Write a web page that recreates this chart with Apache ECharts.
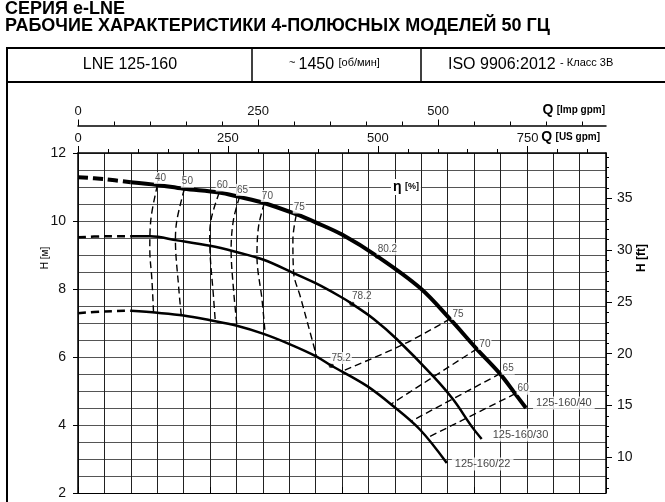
<!DOCTYPE html>
<html>
<head>
<meta charset="utf-8">
<script src="https://cdn.jsdelivr.net/npm/echarts@6/dist/echarts.min.js"></script>
<style>
  html, body { margin: 0; padding: 0; background: #fff; }
  #chart { width: 665px; height: 502px; }
</style>
</head>
<body>
<div id="chart"></div>
<script>
// Q in m3/h, H in m
const curve40Dash = [[0, 11.29], [10, 11.23], [20, 11.14]];
const curve40 = [[20, 11.14], [30, 11.06], [40, 10.95], [53.5, 10.84], [61, 10.71], [70.5, 10.53], [82.6, 10.2], [90, 9.96], [100, 9.6], [113.4, 8.96], [129.6, 8.03], [140.9, 7.12], [151, 6.24], [159.8, 5.51], [165.5, 4.93], [169.7, 4.5]];
const curve30Dash = [[0, 9.52], [10, 9.55], [20, 9.55]];
const curve30 = [[20, 9.55], [27.4, 9.55], [37.5, 9.43], [50, 9.27], [58.9, 9.11], [70.3, 8.86], [81.6, 8.47], [90, 8.17], [99.3, 7.78], [103.7, 7.57], [112, 7.12], [120.7, 6.53], [134.6, 5.43], [142.2, 4.74], [149.1, 3.96], [152.9, 3.59]];
const curve22Dash = [[0, 7.29], [10, 7.34], [20, 7.36]];
const curve22 = [[20, 7.36], [30.1, 7.3], [40, 7.22], [50.1, 7.08], [60.2, 6.92], [70.3, 6.68], [80.1, 6.38], [90.2, 6.02], [95.9, 5.75], [109.4, 5.15], [119.5, 4.55], [129.6, 3.86], [139.7, 2.88]];
const curveNames = ['125-160/40', '125-160/30', '125-160/22'];

// iso-efficiency lines
const iso40 = [[30.1, 11.06], [27.6, 10.04], [27.2, 9.16], [28.0, 8.27], [28.6, 7.32]];
const iso50 = [[40.3, 10.95], [37.5, 10.04], [36.9, 9.45], [38.1, 8.08], [39.1, 7.23]];
const iso60 = [[53.5, 10.84], [50.4, 10.04], [49.9, 9.45], [51.4, 7.69], [52.0, 7.06]];
const iso65 = [[61.2, 10.71], [58.9, 10.04], [58.0, 9.16], [58.9, 7.99], [60.2, 6.92]];
const iso70 = [[70.6, 10.53], [68.4, 9.84], [67.8, 8.96], [69.7, 7.69], [70.9, 6.68]];
const iso75 = [[82.7, 10.19], [81.4, 9.45], [81.7, 8.47], [84.2, 7.78], [88.6, 6.53], [90.3, 6.04]];
const isoLeftNames = ['40', '50', '60', '65', '70', '75'];
const iso75R = [[140.9, 7.12], [123.2, 6.37], [100.6, 5.6]];
const iso70R = [[151.1, 6.24], [118.3, 4.6]];
const iso65R = [[159.9, 5.51], [125.9, 4.1]];
const iso60R = [[165.6, 4.92], [132.2, 3.62]];
const isoRightNames = ['75', '70', '65', '60'];

// best efficiency points [Q, H, eta]
const bepPoints = [[113.4, 8.96, '80.2'], [103.7, 7.57, '78.2'], [95.9, 5.75, '75.2']];

// secondary scales
const US_PER_M3H = 4.40287;
const IMP_PER_M3H = 3.66615;
const FT_PER_M = 3.28084;
const usTicks = [0, 50, 100, 150, 200, 250, 300, 350, 400, 450, 500, 550, 600, 650, 700, 750, 800, 850];
const usLabels = [0, 250, 500, 750];
const impTicks = [0, 50, 100, 150, 200, 250, 300, 350, 400, 450, 500, 550, 600, 650, 700];
const impLabels = [0, 250, 500];
const ftTicks = [7, 8, 9, 10, 11, 12, 13, 14, 15, 16, 17, 18, 19, 20, 21, 22, 23, 24, 25, 26, 27, 28, 29, 30, 31, 32, 33, 34, 35, 36, 37, 38, 39];
const ftLabels = [10, 15, 20, 25, 30, 35];

const FONT = 'Liberation Sans, Arial, sans-serif';
const chart = echarts.init(document.getElementById('chart'));

const series = [];
const lineBase = { type: 'line', smooth: 0.35, showSymbol: false, silent: true, z: 3 };
[[curve40Dash, curve40, 4, [10, 5]], [curve30Dash, curve30, 2.5, [8, 5]], [curve22Dash, curve22, 2.5, [8, 5]]]
  .forEach(([d, s, w, dash]) => {
    series.push(Object.assign({}, lineBase, { data: d, lineStyle: { color: '#000', width: w, type: dash } }));
    series.push(Object.assign({}, lineBase, { data: s, lineStyle: { color: '#000', width: w } }));
  });
[iso40, iso50, iso60, iso65, iso70, iso75, iso75R, iso70R, iso65R, iso60R].forEach(d => {
  series.push(Object.assign({}, lineBase, { data: d, z: 2, lineStyle: { color: '#000', width: 1.4, type: [7, 4] } }));
});

const labelBox = { fontFamily: FONT, fontSize: 10, color: '#222', backgroundColor: '#fff', padding: [1, 1] };
// left iso labels
series.push({
  type: 'scatter', silent: true, symbolSize: 0, z: 5,
  data: [iso40, iso50, iso60, iso65, iso70, iso75].map((d, i) => [d[0][0], d[0][1], isoLeftNames[i]]),
  label: Object.assign({ show: true, position: 'top', distance: 1, offset: [3, 0], formatter: p => p.data[2] }, labelBox)
});
// right iso labels
series.push({
  type: 'scatter', silent: true, symbolSize: 0, z: 5,
  data: [iso75R, iso70R, iso65R, iso60R].map((d, i) => [d[0][0], d[0][1], isoRightNames[i]]),
  label: Object.assign({ show: true, position: 'top', distance: 0, offset: [8, 1], formatter: p => p.data[2] }, labelBox)
});
// best efficiency points
series.push({
  type: 'scatter', silent: true, symbolSize: 5, z: 6, itemStyle: { color: '#000' },
  data: bepPoints,
  label: Object.assign({ show: true, position: 'top', distance: 0, offset: [10, 1], formatter: p => p.data[2] }, labelBox)
});
// curve names at the end of each curve
const endOffsets = [[7, -5], [8, -4], [5, 1]];
[curve40, curve30, curve22].forEach((c, i) => {
  series.push({
    type: 'scatter', silent: true, symbolSize: 0, z: 5,
    data: [[c[c.length - 1][0], c[c.length - 1][1], curveNames[i]]],
    label: Object.assign({}, labelBox, { show: true, position: 'right', distance: endOffsets[i][0], offset: [0, endOffsets[i][1]],
      fontSize: 11, color: '#111', padding: [1, 3], formatter: p => p.data[2] })
  });
});

const axisFont = { fontFamily: FONT, color: '#111' };

chart.setOption({
  animation: false,
  backgroundColor: '#fff',
  textStyle: { fontFamily: FONT },
  grid: { left: 78, top: 153, right: 59, bottom: 9, containLabel: false },
  xAxis: [
    { type: 'value', min: 0, max: 200, interval: 10, position: 'bottom',
      axisLine: { show: true, onZero: false, lineStyle: { color: '#000', width: 1 } },
      axisTick: { show: false }, axisLabel: { show: false },
      splitLine: { show: true, lineStyle: { color: '#222', width: 1 } } },
    { type: 'value', min: 0, max: 200 * US_PER_M3H, position: 'top',
      axisLine: { show: true, onZero: false, lineStyle: { color: '#000', width: 1.5 } },
      axisTick: { show: true, customValues: usTicks, length: 4, lineStyle: { color: '#000' } },
      axisLabel: Object.assign({ customValues: usLabels, margin: 8, fontSize: 13 }, axisFont),
      splitLine: { show: false } },
    { type: 'value', min: 0, max: 200 * US_PER_M3H, position: 'top',
      axisLine: { show: false, onZero: false },
      axisTick: { show: true, customValues: usLabels, length: 7, lineStyle: { color: '#000' } },
      axisLabel: { show: false }, splitLine: { show: false } },
    { type: 'value', min: 0, max: 200 * IMP_PER_M3H, position: 'top', offset: 27.5,
      axisLine: { show: true, onZero: false, lineStyle: { color: '#000', width: 1.5 } },
      axisTick: { show: true, customValues: impTicks, length: 4, lineStyle: { color: '#000' } },
      axisLabel: Object.assign({ customValues: impLabels, margin: 8, fontSize: 13 }, axisFont),
      splitLine: { show: false } },
    { type: 'value', min: 0, max: 200 * IMP_PER_M3H, position: 'top', offset: 27.5,
      axisLine: { show: false, onZero: false },
      axisTick: { show: true, customValues: impLabels, length: 6, lineStyle: { color: '#000' } },
      axisLabel: { show: false }, splitLine: { show: false } },
    { type: 'value', min: 0, max: 200, interval: 50, position: 'bottom',
      axisLine: { show: false, onZero: false },
      axisTick: { show: true, inside: true, length: 6, lineStyle: { color: '#000' } },
      axisLabel: { show: false }, splitLine: { show: false } }
  ],
  yAxis: [
    { type: 'value', min: 2, max: 12, interval: 2, position: 'left',
      axisLine: { show: true, onZero: false, lineStyle: { color: '#000', width: 1.5 } },
      axisTick: { show: true, length: 5, lineStyle: { color: '#000' } },
      axisLabel: Object.assign({ margin: 12, fontSize: 14 }, axisFont),
      splitLine: { show: false } },
    { type: 'value', min: 2, max: 12, interval: 0.5, position: 'left',
      axisLine: { show: false, onZero: false }, axisTick: { show: false }, axisLabel: { show: false },
      splitLine: { show: true, lineStyle: { color: '#555', width: 1.2 } } },
    { type: 'value', min: 2 * FT_PER_M, max: 12 * FT_PER_M, position: 'right',
      axisLine: { show: true, onZero: false, lineStyle: { color: '#000', width: 1.5 } },
      axisTick: { show: true, customValues: ftTicks, length: 3, lineStyle: { color: '#000' } },
      axisLabel: Object.assign({ customValues: ftLabels, margin: 11, fontSize: 14 }, axisFont),
      splitLine: { show: false } },
    { type: 'value', min: 2 * FT_PER_M, max: 12 * FT_PER_M, position: 'right',
      axisLine: { show: false, onZero: false },
      axisTick: { show: true, customValues: ftLabels, length: 6, lineStyle: { color: '#000' } },
      axisLabel: { show: false }, splitLine: { show: false } }
  ],
  graphic: [
    { type: 'text', x: 5, y: 0, style: { text: 'СЕРИЯ e-LNE', font: 'bold 18px ' + FONT, fill: '#000' } },
    { type: 'text', x: 5, y: 17, style: { text: 'РАБОЧИЕ ХАРАКТЕРИСТИКИ 4-ПОЛЮСНЫХ МОДЕЛЕЙ 50 ГЦ', font: 'bold 18px ' + FONT, fill: '#000' } },
    { type: 'line', shape: { x1: 6, y1: 48, x2: 665, y2: 48 }, style: { stroke: '#000', lineWidth: 2 } },
    { type: 'line', shape: { x1: 6, y1: 82, x2: 665, y2: 82 }, style: { stroke: '#000', lineWidth: 2 } },
    { type: 'line', shape: { x1: 7, y1: 47, x2: 7, y2: 502 }, style: { stroke: '#000', lineWidth: 2 } },
    { type: 'line', shape: { x1: 252, y1: 48, x2: 252, y2: 82 }, style: { stroke: '#000', lineWidth: 1.5 } },
    { type: 'line', shape: { x1: 421, y1: 48, x2: 421, y2: 82 }, style: { stroke: '#000', lineWidth: 1.5 } },
    { type: 'text', x: 130, y: 65, style: { text: 'LNE 125-160', font: '16px ' + FONT, fill: '#000', align: 'center', verticalAlign: 'middle' } },
    { type: 'text', x: 289, y: 65, style: { text: '{s|~ }{b|1450 }{s|[об/мин]}', verticalAlign: 'middle', fill: '#000',
        rich: { s: { fontSize: 11, fontFamily: FONT, padding: [0, 0, 5, 0] }, b: { fontSize: 16, fontFamily: FONT } } } },
    { type: 'text', x: 448, y: 65, style: { text: '{b|ISO 9906:2012 }{s|- Класс 3B}', verticalAlign: 'middle', fill: '#000',
        rich: { s: { fontSize: 11, fontFamily: FONT, padding: [0, 0, 5, 0] }, b: { fontSize: 16, fontFamily: FONT } } } },
    { type: 'text', x: 605, y: 110, style: { text: '{q|Q} {u|[Imp gpm]}', align: 'right', verticalAlign: 'middle', fill: '#000',
        rich: { q: { fontSize: 14, fontWeight: 'bold', fontFamily: FONT }, u: { fontSize: 10, fontWeight: 'bold', fontFamily: FONT } } } },
    { type: 'text', x: 600, y: 137, style: { text: '{q|Q} {u|[US gpm]}', align: 'right', verticalAlign: 'middle', fill: '#000',
        rich: { q: { fontSize: 14, fontWeight: 'bold', fontFamily: FONT }, u: { fontSize: 10, fontWeight: 'bold', fontFamily: FONT } } } },
    { type: 'text', x: 45, y: 258, rotation: Math.PI / 2, style: { text: 'H [м]', font: '10px ' + FONT, fill: '#000', align: 'center', verticalAlign: 'middle' } },
    { type: 'text', x: 642, y: 258, rotation: Math.PI / 2, style: { text: 'H [ft]', font: 'bold 12px ' + FONT, fill: '#000', align: 'center', verticalAlign: 'middle' } },
    { type: 'text', x: 391, y: 187, z: 10, style: { text: '{e|η} {p|[%]}', verticalAlign: 'middle', fill: '#000', backgroundColor: '#fff', padding: [1, 2],
        rich: { e: { fontSize: 14, fontWeight: 'bold', fontFamily: FONT }, p: { fontSize: 9, fontWeight: 'bold', fontFamily: FONT } } } }
  ],
  series: series
});
</script>
</body>
</html>
